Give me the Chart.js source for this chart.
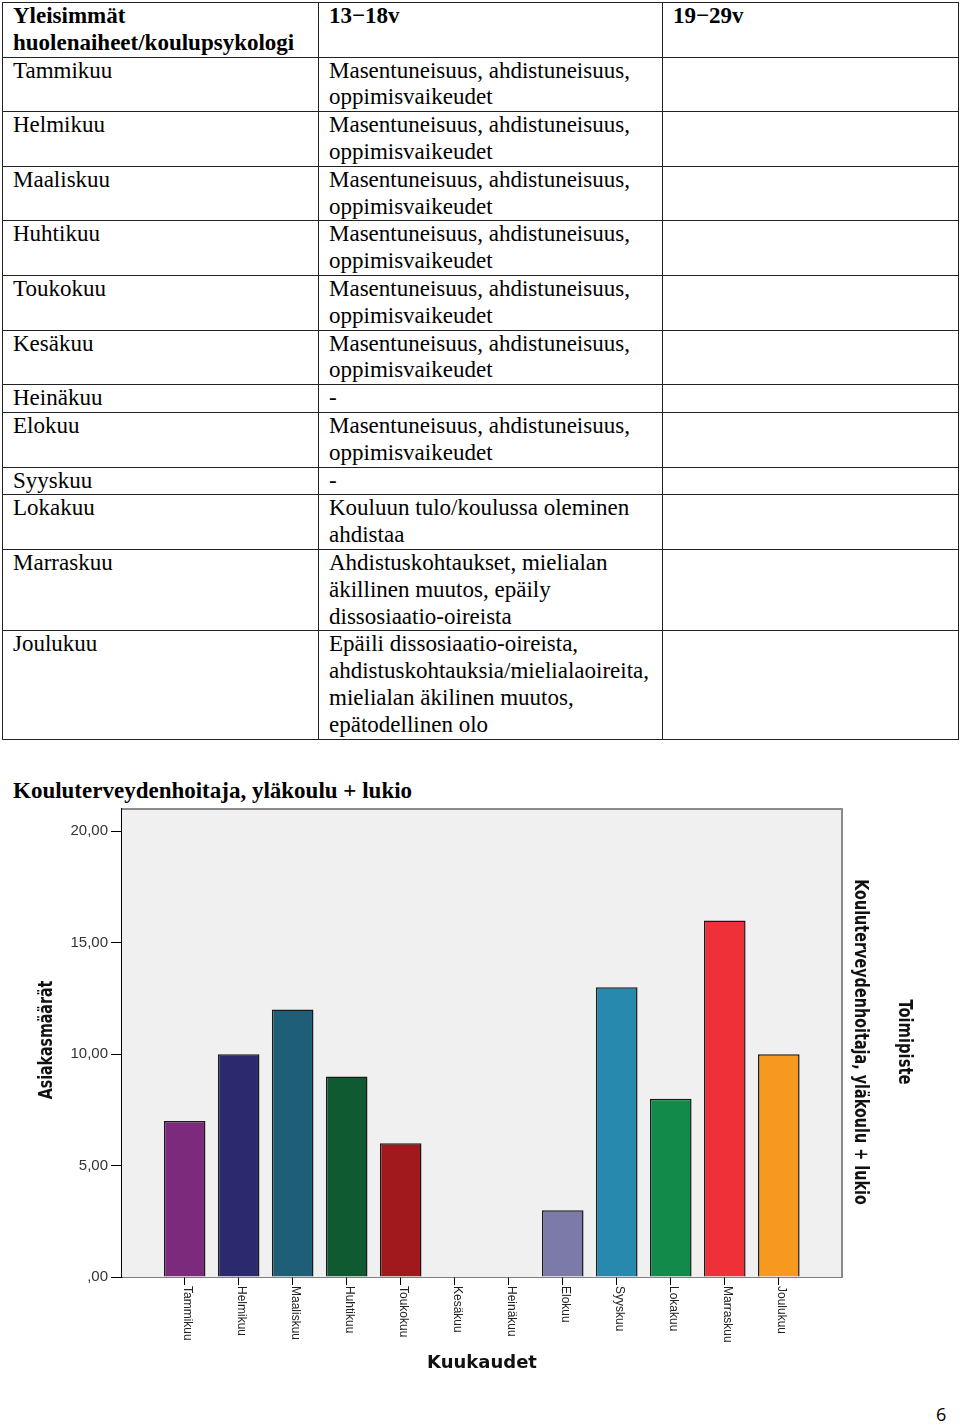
<!DOCTYPE html>
<html lang="fi">
<head>
  <meta charset="UTF-8" />
  <title>Kouluterveydenhoitaja, yläkoulu + lukio</title>
  <script src="https://cdn.jsdelivr.net/npm/chart.js"></script>
  <style>
    body { margin: 0; background: #fff; width: 960px; height: 1425px; position: relative; overflow: hidden; }
    table.topics {
      position: absolute; left: 2px; top: 2px;
      border-collapse: collapse; table-layout: fixed;
      font-family: "Liberation Serif", "Times New Roman", serif;
      font-size: 23px; line-height: 26.8px; color: #000;
    }
    table.topics td, table.topics th {
      border: 1px solid #222; padding: 0 4px 0 10px;
      vertical-align: top; text-align: left; white-space: nowrap;
    }
    table.topics th { font-weight: bold; }
    h2 {
      position: absolute; left: 13px; top: 777px; margin: 0;
      font-family: "Liberation Serif", "Times New Roman", serif;
      font-size: 23px; line-height: 27.2px; font-weight: bold;
    }
    #wrap { position: absolute; left: 0; top: 800px; width: 960px; height: 600px; }
    .page { position: absolute; left: 936px; top: 1402px; font-family: "Open Sans", sans-serif; font-size: 18px; }
  </style>
</head>
<body>

  <!-- Table -->
  <table class="topics">
    <colgroup><col style="width:316px"><col style="width:344px"><col style="width:296px"></colgroup>
    <tr><th>Yleisimmät<br>huolenaiheet/koulupsykologi</th><th>13−18v</th><th>19−29v</th></tr>
    <tr><td>Tammikuu</td><td>Masentuneisuus, ahdistuneisuus,<br>oppimisvaikeudet</td><td></td></tr>
    <tr><td>Helmikuu</td><td>Masentuneisuus, ahdistuneisuus,<br>oppimisvaikeudet</td><td></td></tr>
    <tr><td>Maaliskuu</td><td>Masentuneisuus, ahdistuneisuus,<br>oppimisvaikeudet</td><td></td></tr>
    <tr><td>Huhtikuu</td><td>Masentuneisuus, ahdistuneisuus,<br>oppimisvaikeudet</td><td></td></tr>
    <tr><td>Toukokuu</td><td>Masentuneisuus, ahdistuneisuus,<br>oppimisvaikeudet</td><td></td></tr>
    <tr><td>Kesäkuu</td><td>Masentuneisuus, ahdistuneisuus,<br>oppimisvaikeudet</td><td></td></tr>
    <tr><td>Heinäkuu</td><td>-</td><td></td></tr>
    <tr><td>Elokuu</td><td>Masentuneisuus, ahdistuneisuus,<br>oppimisvaikeudet</td><td></td></tr>
    <tr><td>Syyskuu</td><td>-</td><td></td></tr>
    <tr><td>Lokakuu</td><td>Kouluun tulo/koulussa oleminen<br>ahdistaa</td><td></td></tr>
    <tr><td>Marraskuu</td><td>Ahdistuskohtaukset, mielialan<br>äkillinen muutos, epäily<br>dissosiaatio-oireista</td><td></td></tr>
    <tr><td>Joulukuu</td><td>Epäili dissosiaatio-oireista,<br>ahdistuskohtauksia/mielialaoireita,<br>mielialan äkilinen muutos,<br>epätodellinen olo</td><td></td></tr>
  </table>

  <h2>Kouluterveydenhoitaja, yläkoulu + lukio</h2>

  <div id="wrap"><canvas id="visitChart" width="960" height="600"></canvas></div>

  <div class="page">6</div>

<script>
  // Chart data
  const months = ['Tammikuu', 'Helmikuu', 'Maaliskuu', 'Huhtikuu', 'Toukokuu', 'Kesäkuu',
                  'Heinäkuu', 'Elokuu', 'Syyskuu', 'Lokakuu', 'Marraskuu', 'Joulukuu'];
  const counts = [7, 10, 12, 9, 6, 0, 0, 3, 13, 8, 16, 10];
  const barColors = ['#7c2a7c', '#2b2a6e', '#1e5e77', '#0f5a30', '#a1181d', '#888888',
                     '#888888', '#7b7aa8', '#2789ae', '#128b4a', '#ef3038', '#f7991e'];
  const yTicks = [0, 5, 10, 15, 20];

  const xTitle = 'Kuukaudet';
  const yTitle = 'Asiakasmäärät';
  const legendTitle = 'Toimipiste';
  const legendItem = 'Kouluterveydenhoitaja, yläkoulu + lukio';

  const narrow = '"Liberation Sans Narrow", "DejaVu Sans Condensed", Arial, sans-serif';

  // draw rotated text squeezed along its direction
  function rotText(ctx, text, x, y, angle, squeeze) {
    ctx.save();
    ctx.translate(x, y);
    ctx.rotate(angle);
    ctx.scale(squeeze, 1);
    ctx.fillText(text, 0, 0);
    ctx.restore();
  }

  // background + frame, month labels, titles
  const decor = {
    id: 'decor',
    beforeDatasetsDraw(chart) {
      const { ctx, chartArea: a } = chart;
      ctx.save();
      ctx.fillStyle = '#f0f0f0';
      ctx.fillRect(a.left, a.top, a.right - a.left, a.bottom - a.top);
      ctx.strokeStyle = '#8a8a8a';
      ctx.lineWidth = 2;
      ctx.beginPath();
      ctx.moveTo(a.left, a.top);
      ctx.lineTo(a.right, a.top);
      ctx.lineTo(a.right, a.bottom);
      ctx.stroke();
      ctx.restore();
    },
    afterDraw(chart) {
      const { ctx, chartArea: a } = chart;
      const xs = chart.scales.x;
      ctx.save();
      ctx.fillStyle = '#222';
      ctx.font = '12px "Liberation Sans", Arial, sans-serif';
      ctx.textAlign = 'left';
      ctx.textBaseline = 'middle';
      months.forEach((m, i) => {
        rotText(ctx, m, xs.getPixelForValue(i) + 3, a.bottom + 9, Math.PI / 2, 1);
      });

      ctx.fillStyle = '#111';
      ctx.textAlign = 'center';
      ctx.font = 'bold 18px "DejaVu Sans", sans-serif';
      ctx.fillText(xTitle, (a.left + a.right) / 2, 563);

      ctx.font = 'bold 19px ' + narrow;
      rotText(ctx, yTitle, 47, 240, -Math.PI / 2, 0.83);

      ctx.font = 'bold 20px ' + narrow;
      rotText(ctx, legendItem, 860, 242, Math.PI / 2, 0.8);
      rotText(ctx, legendTitle, 904, 242, Math.PI / 2, 0.82);
      ctx.restore();
    }
  };

  new Chart(document.getElementById('visitChart'), {
    type: 'bar',
    data: {
      datasets: [{
        data: months.map((m, i) => ({ x: i, y: counts[i] })),
        backgroundColor: barColors,
        borderColor: '#1a1a1a',
        borderWidth: 1.5,
        barPercentage: 0.77,
        categoryPercentage: 1
      }]
    },
    options: {
      responsive: false,
      animation: false,
      layout: { padding: { top: 9, right: 118, left: 0, bottom: 0 } },
      plugins: { legend: { display: false }, tooltip: { enabled: false } },
      scales: {
        x: {
          type: 'linear',
          offset: false,
          min: -1.16,
          max: 12.17,
          afterBuildTicks: s => { s.ticks = months.map((m, i) => ({ value: i })); },
          afterFit: s => { s.height = 123; s.paddingLeft = 0; s.paddingRight = 0; },
          ticks: { display: false },
          grid: { display: true, offset: false, drawOnChartArea: false, tickLength: 8, color: '#000', lineWidth: 1 },
          border: { display: true, color: '#000', width: 1.5 }
        },
        y: {
          min: 0,
          max: 21,
          afterBuildTicks: s => { s.ticks = yTicks.map(v => ({ value: v })); },
          afterFit: s => { s.width = 122; s.paddingTop = 0; s.paddingBottom = 0; },
          ticks: {
            padding: 3,
            color: '#333',
            font: { family: '"Liberation Sans", Arial, sans-serif', size: 15 },
            callback: v => v === 0 ? ',00' : v.toFixed(2).replace('.', ',')
          },
          grid: { display: true, drawOnChartArea: false, tickLength: 11, color: '#000', lineWidth: 1 },
          border: { display: true, color: '#000', width: 1.5 }
        }
      }
    },
    plugins: [decor]
  });
</script>
</body>
</html>
